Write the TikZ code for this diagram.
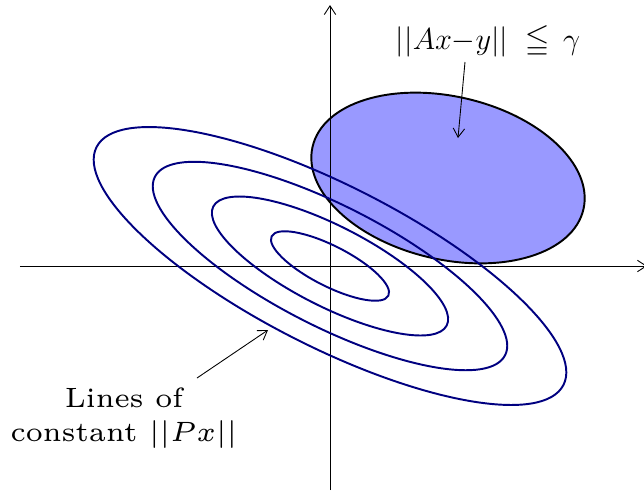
\documentclass[tikz,border=0pt]{standalone}
\usepackage{amssymb}
\usetikzlibrary{arrows.meta,positioning}

\begin{document}
\begin{tikzpicture}[
    x=1cm, y=1cm,
    >={Straight Barb[length=5pt, width=6.5pt]},
    axis/.style={->, line width=0.5pt},
    level/.style={draw=blue!50!black, line width=1.1pt},
    feasible/.style={draw=black, line width=1.1pt, fill=blue!40},
    label/.style={font=\fontsize{6}{7.4}\selectfont, align=center, inner sep=0pt, scale=2.65, transform shape},
    mathlabel/.style={font=\fontsize{18}{22}\selectfont, inner sep=0pt},
    pointer/.style={->, line width=0.5pt}
]
    \useasboundingbox (-6.6,-4.48) rectangle (6.28,5.32);

    % --- Feasible set ---
    \draw[feasible, rotate around={-13:(2.36,1.76)}] (2.36,1.76) ellipse (2.78 and 1.63);

    % --- Axes ---
    \coordinate (xmin) at (-6.2,0);
    \coordinate (xmax) at (6.34,0);
    \coordinate (ymin) at (0,-4.48);
    \coordinate (ymax) at (0,5.22);
    \draw[axis] (xmin) -- (xmax);
    \draw[axis] (ymin) -- (ymax);

    % --- Lines of constant norm ---
    \foreach \k in {1,2,3,4}
        \draw[level, rotate=-27] (0,0) ellipse ({1.31*\k} and {0.403*\k});

    % Labels
    \node[mathlabel] (setlabel) at (3.16,4.48) {$||Ax{-}y||\;\leqq\,\gamma$};
    \node[label] (curvelabel) at (-4.12,-3.04) {Lines of\\constant $||Px||$};

    \coordinate (settail) at (2.7,4.08);
    \coordinate (sethead) at (2.56,2.56);
    \coordinate (curvetail) at (-2.66,-2.24);
    \coordinate (curvehead) at (-1.24,-1.28);
    \draw[pointer] (settail) -- (sethead);
    \draw[pointer] (curvetail) -- (curvehead);

\end{tikzpicture}
\end{document}
